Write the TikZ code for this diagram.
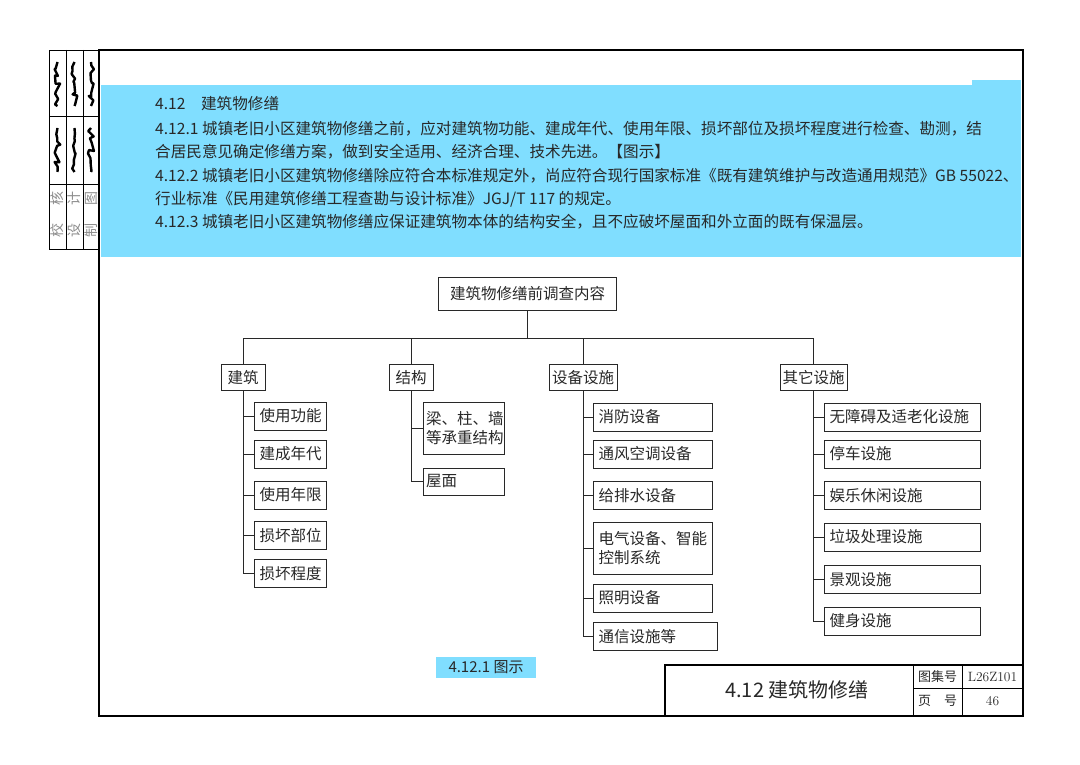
\documentclass[tikz,border=0pt]{standalone}
\usepackage{fontspec}
\newfontfamily\cjk{Noto Sans CJK SC}
\usepackage{tikz}
\usetikzlibrary{
  positioning,              % 节点相对定位
  decorations.pathmorphing  % 签名用的折线
}
\definecolor{bandblue}{RGB}{128,222,255}
\definecolor{ink}{RGB}{40,40,40}
\tikzset{
  box/.style={draw=ink, line width=1pt, inner sep=0pt, text=ink,
    font=\cjk\fontsize{15.5}{19}\selectfont},
  headbox/.style={box, minimum width=#1, minimum height=26},
  leaf/.style={box, anchor=west, align=left, inner xsep=5pt,
    text width=#1, minimum height=28},
  link/.style={draw=ink, line width=1pt},
  bandtext/.style={anchor=west, inner sep=0pt, text=ink,
    font=\cjk\fontsize{15.6}{19}\selectfont},
  sig/.style={line width=2.4pt, line join=round, decorate,
    decoration={random steps, segment length=4pt, amplitude=3pt}},
  stamp/.style={rotate=90, text=black!45, font=\cjk\fontsize{14}{16}\selectfont}
}

\begin{document}
\begin{tikzpicture}[x=1pt, y=-1pt]
    \useasboundingbox (0,0) rectangle (1080,765);

    % 蓝色条文底色
    \fill[bandblue] (101,85) rectangle (1021,257);
    \fill[bandblue] (972,80) rectangle (1021,85);

    % 左侧签字栏
    \draw[line width=0.8pt] (49,50) rectangle (99,249);
    \draw[line width=0.8pt] (66,50) -- (66,249) (83,50) -- (83,249);
    \draw[line width=0.8pt] (49,116) -- (99,116) (49,184) -- (99,184);
    \pgfmathsetseed{17}
    \foreach \x in {57.5,74.5,91} {
      \draw[sig] (\x,62) -- (\x,106);
      \draw[sig] (\x,128) -- (\x,172);
    }
    \node[stamp] (s1) at (57.5,214) {校\hspace{18pt}核};
    \node[stamp] (s2) at (74.5,214) {设\hspace{18pt}计};
    \node[stamp] (s3) at (91,214) {制\hspace{18pt}图};

    % 条文
    \node[bandtext] (t1) at (155,104) {4.12\quad 建筑物修缮};
    \node[bandtext] (t2) at (155,129) {4.12.1 城镇老旧小区建筑物修缮之前，应对建筑物功能、建成年代、使用年限、损坏部位及损坏程度进行检查、勘测，结};
    \node[bandtext] (t3) at (155,152) {合居民意见确定修缮方案，做到安全适用、经济合理、技术先进。【图示】};
    \node[bandtext] (t4) at (155,176) {4.12.2 城镇老旧小区建筑物修缮除应符合本标准规定外，尚应符合现行国家标准《既有建筑维护与改造通用规范》GB 55022、};
    \node[bandtext] (t5) at (155,199) {行业标准《民用建筑修缮工程查勘与设计标准》JGJ/T 117 的规定。};
    \node[bandtext] (t6) at (155,222) {4.12.3 城镇老旧小区建筑物修缮应保证建筑物本体的结构安全，且不应破坏屋面和外立面的既有保温层。};

    % 图框
    \draw[line width=2.6pt] (99,50) rectangle (1023,716);

    % 根节点与第一层
    \node[box, minimum width=178, minimum height=33] (root) at (527.5,293.5) {建筑物修缮前调查内容};
    \node[headbox=44] (jz) at (243,377.5) {建筑};
    \node[headbox=44] (jg) at (411,377.5) {结构};
    \node[headbox=68] (sb) at (583,377.5) {设备设施};
    \node[headbox=67] (qt) at (813.5,377.5) {其它设施};

    \coordinate (bus) at (527.5,338);
    \draw[link] (root.south) -- (bus);
    \draw[link] (jz.north) -- (jz.north |- bus) -- (qt.north |- bus) -- (qt.north);
    \draw[link] (jg.north) -- (jg.north |- bus);
    \draw[link] (sb.north) -- (sb.north |- bus);

    % 建筑
    \node[leaf=62] (jz1) at (254,416) {使用功能};
    \node[leaf=62] (jz2) at (254,454) {建成年代};
    \node[leaf=62] (jz3) at (254,495) {使用年限};
    \node[leaf=62] (jz4) at (254,535.5) {损坏部位};
    \node[leaf=62] (jz5) at (254,573.5) {损坏程度};
    \draw[link] (jz.south) |- (jz5.west);
    \foreach \i in {1,...,4}
      \draw[link] (jz.south |- jz\i.west) -- (jz\i.west);

    % 结构
    \node[leaf=76, inner xsep=2.5pt, minimum height=52] (jg1) at (423,428) {梁、柱、墙\\等承重结构};
    \node[leaf=76, inner xsep=2.5pt, minimum height=27] (jg2) at (423,481.5) {屋面};
    \draw[link] (jg.south) |- (jg2.west);
    \draw[link] (jg.south |- jg1.west) -- (jg1.west);

    % 设备设施
    \node[leaf=109] (sb1) at (593,417) {消防设备};
    \node[leaf=109] (sb2) at (593,454) {通风空调设备};
    \node[leaf=109] (sb3) at (593,495.5) {给排水设备};
    \node[leaf=109, minimum height=52] (sb4) at (593,548) {电气设备、智能\\控制系统};
    \node[leaf=109] (sb5) at (593,598) {照明设备};
    \node[leaf=114] (sb6) at (593,636.5) {通信设施等};
    \draw[link] (sb.south) |- (sb6.west);
    \foreach \i in {1,...,5}
      \draw[link] (sb.south |- sb\i.west) -- (sb\i.west);

    % 其它设施
    \node[leaf=146] (qt1) at (824,417) {无障碍及适老化设施};
    \node[leaf=146] (qt2) at (824,454) {停车设施};
    \node[leaf=146] (qt3) at (824,495.5) {娱乐休闲设施};
    \node[leaf=146] (qt4) at (824,537) {垃圾处理设施};
    \node[leaf=146] (qt5) at (824,579.5) {景观设施};
    \node[leaf=146] (qt6) at (824,621) {健身设施};
    \draw[link] (qt.south) |- (qt6.west);
    \foreach \i in {1,...,5}
      \draw[link] (qt.south |- qt\i.west) -- (qt\i.west);

    % 图名
    \node[fill=bandblue, inner sep=0pt, minimum width=100, minimum height=21, text=ink,
      font=\cjk\fontsize{15}{18}\selectfont] (cap) at (486,667.5) {4.12.1 图示};

    % 标题栏
    \draw[line width=1.6pt] (665,716) -- (665,665) -- (1023,665);
    \draw[line width=0.8pt] (913,665) -- (913,716) (962,665) -- (962,716) (913,688) -- (1023,688);
    \node[text=ink, font=\cjk\fontsize{20}{24}\selectfont] (title) at (797,690) {4.12 建筑物修缮};
    \node[text=ink, font=\cjk\fontsize{13}{15}\selectfont] (tjh) at (937.5,677) {图集号};
    \node[text=ink, font=\cjk\fontsize{13}{15}\selectfont] (yh) at (937.5,701) {页\hspace{13pt}号};
    \node[text=ink, font=\fontsize{13.5}{15}\selectfont] (tjno) at (992.5,677) {L26Z101};
    \node[text=ink, font=\fontsize{13.5}{15}\selectfont] (yno) at (992.5,701) {46};
\end{tikzpicture}
\end{document}
